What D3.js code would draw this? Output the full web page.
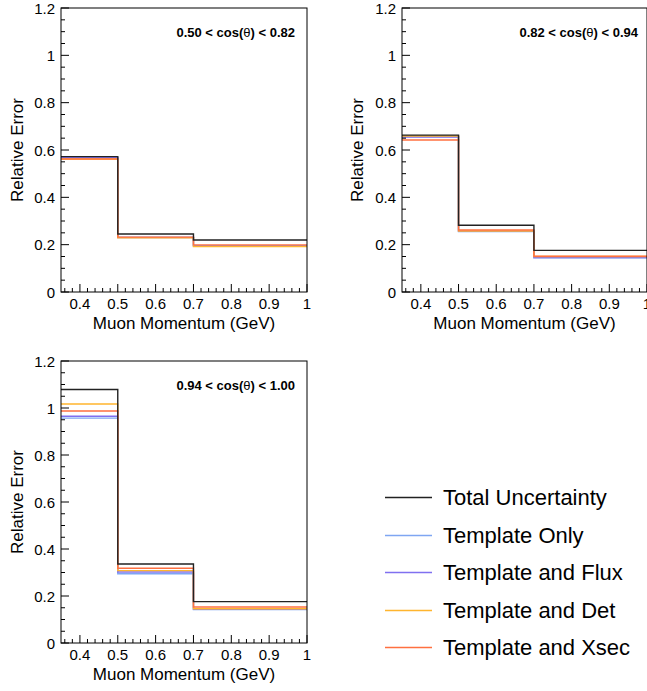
<!DOCTYPE html>
<html>
<head>
<meta charset="utf-8">
<script src="https://cdn.jsdelivr.net/npm/d3@7"></script>
<style>
  html, body { margin: 0; padding: 0; background: #fff; overflow: hidden; }
  svg { display: block; font-family: "Liberation Sans", Arial, Helvetica, sans-serif; }
</style>
</head>
<body>
<svg id="chart" width="647" height="691"></svg>
<script>
// ---- data ----
const binEdges = [0.35, 0.5, 0.7, 1.0];
const seriesNames = ["Total Uncertainty", "Template Only", "Template and Flux", "Template and Det", "Template and Xsec"];
const seriesColors = ["#222222", "#7fa6f2", "#8070f0", "#ffb52e", "#ff7040"];
const panelLabels = ["0.50 < cos(θ) < 0.82", "0.82 < cos(θ) < 0.94", "0.94 < cos(θ) < 1.00"];
// values per panel, per series (order = seriesNames), per bin
const panel1 = [
  [0.572, 0.245, 0.220],
  [0.569, 0.231, 0.196],
  [0.567, 0.230, 0.195],
  [0.562, 0.229, 0.192],
  [0.562, 0.232, 0.199]
];
const panel2 = [
  [0.663, 0.282, 0.176],
  [0.657, 0.255, 0.145],
  [0.655, 0.256, 0.146],
  [0.659, 0.258, 0.150],
  [0.642, 0.262, 0.151]
];
const panel3 = [
  [1.079, 0.336, 0.176],
  [0.957, 0.295, 0.142],
  [0.965, 0.302, 0.145],
  [1.017, 0.308, 0.146],
  [0.987, 0.318, 0.153]
];
const xTicks = [0.4, 0.5, 0.6, 0.7, 0.8, 0.9, 1.0];
const yTicks = [0, 0.2, 0.4, 0.6, 0.8, 1.0, 1.2];
const xTitle = "Muon Momentum (GeV)";
const yTitle = "Relative Error";

const svg = d3.select("#chart");

const panels = [
  { data: panel1, label: panelLabels[0], x0: 61, x1: 307, y0: 8, y1: 292, yTitleX: 23 },
  { data: panel2, label: panelLabels[1], x0: 402, x1: 647, y0: 8, y1: 292, yTitleX: 363 },
  { data: panel3, label: panelLabels[2], x0: 61, x1: 307, y0: 361, y1: 643, yTitleX: 23 }
];

const drawOrder = [1, 2, 3, 4, 0];

panels.forEach(p => {
  const x = d3.scaleLinear().domain([0.35, 1.0]).range([p.x0, p.x1]);
  const y = d3.scaleLinear().domain([0, 1.2]).range([p.y1, p.y0]);
  const g = svg.append("g");

  // histograms (step lines)
  drawOrder.forEach(si => {
    const vals = p.data[si];
    const pts = [];
    vals.forEach((v, i) => {
      pts.push([binEdges[i], v]);
      pts.push([binEdges[i + 1], v]);
    });
    const line = d3.line().x(d => x(d[0])).y(d => y(d[1]));
    g.append("path")
      .attr("d", line(pts))
      .attr("fill", "none")
      .attr("stroke", seriesColors[si])
      .attr("stroke-width", 1.4);
  });

  // frame
  g.append("rect")
    .attr("x", p.x0).attr("y", p.y0)
    .attr("width", p.x1 - p.x0).attr("height", p.y1 - p.y0)
    .attr("fill", "none").attr("stroke", "#000").attr("stroke-width", 1);

  // x ticks: major 0.1, minor 0.02
  const xMinor = d3.range(36, 101, 2).map(d => d / 100);
  g.selectAll(null).data(xMinor).enter().append("line")
    .attr("x1", d => x(d)).attr("x2", d => x(d))
    .attr("y1", p.y1).attr("y2", d => p.y1 - (Math.abs(Math.round(d * 10) - d * 10) < 1e-6 ? 8 : 4))
    .attr("stroke", "#000").attr("stroke-width", 1);
  g.selectAll(null).data(xTicks).enter().append("text")
    .attr("x", d => x(d)).attr("y", p.y1 + 17)
    .attr("text-anchor", "middle").attr("font-size", 15).attr("fill", "#000")
    .text(d => d3.format("")(+d.toFixed(1)));

  // y ticks: major 0.2, minor 0.05
  const yMinor = d3.range(0, 121, 5).map(d => d / 100);
  g.selectAll(null).data(yMinor).enter().append("line")
    .attr("y1", d => y(d)).attr("y2", d => y(d))
    .attr("x1", p.x0).attr("x2", (d, i) => p.x0 + (i % 4 === 0 ? 8 : 4))
    .attr("stroke", "#000").attr("stroke-width", 1);
  g.selectAll(null).data(yTicks).enter().append("text")
    .attr("x", p.x0 - 6).attr("y", d => y(d) + 5.5)
    .attr("text-anchor", "end").attr("font-size", 15).attr("fill", "#000")
    .text(d => d3.format("")(+d.toFixed(1)));

  // axis titles
  g.append("text")
    .attr("x", (p.x0 + p.x1) / 2).attr("y", p.y1 + 37)
    .attr("text-anchor", "middle").attr("font-size", 17).attr("fill", "#000")
    .text(xTitle);
  g.append("text")
    .attr("transform", `translate(${p.yTitleX},${(p.y0 + p.y1) / 2}) rotate(-90)`)
    .attr("text-anchor", "middle").attr("font-size", 17).attr("fill", "#000")
    .text(yTitle);

  // panel label
  const parts = p.label.split("θ");
  const t = g.append("text")
    .attr("x", p.x1 - (p.x1 > 600 ? 9 : 12)).attr("y", p.y0 + 29)
    .attr("text-anchor", "end").attr("font-size", 13).attr("font-weight", "bold").attr("fill", "#000");
  t.append("tspan").text(parts[0]);
  t.append("tspan").attr("font-weight", "normal").text("θ");
  t.append("tspan").text(parts[1]);
});

// legend
const legendRows = [497, 534.5, 572, 609.5, 647];
seriesNames.forEach((name, i) => {
  const ly = Math.round(legendRows[i]) + 0.5;
  svg.append("line")
    .attr("x1", 385).attr("x2", 432)
    .attr("y1", ly).attr("y2", ly)
    .attr("stroke", seriesColors[i]).attr("stroke-width", 1.3);
  svg.append("text")
    .attr("x", 443).attr("y", legendRows[i] + 8)
    .attr("font-size", 22).attr("fill", "#000")
    .text(name);
});
</script>
</body>
</html>
